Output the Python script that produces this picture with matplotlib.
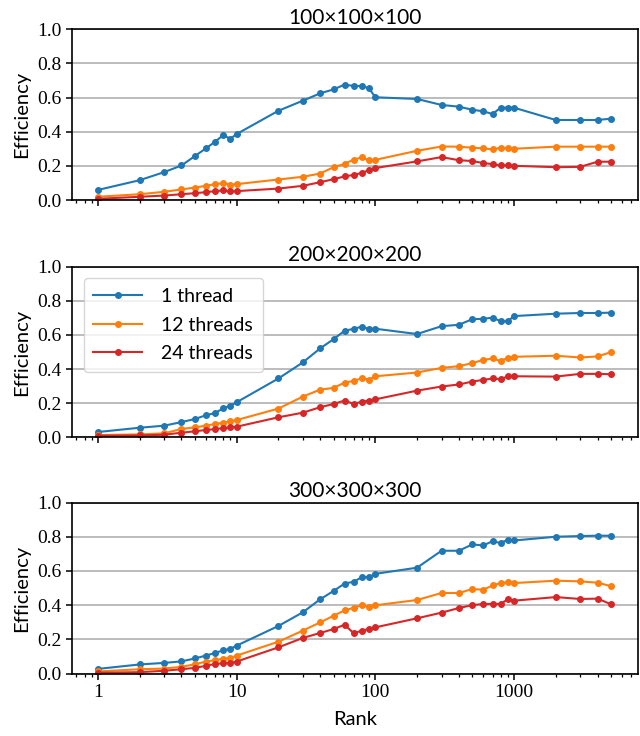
import matplotlib
matplotlib.use("Agg")
import matplotlib.pyplot as plt
from matplotlib.ticker import LogLocator, FixedLocator, FuncFormatter

# ranks (x axis)
ranks = [1, 2, 3, 4, 5, 6, 7, 8, 9, 10,
         20, 30, 40, 50, 60, 70, 80, 90, 100,
         200, 300, 400, 500, 600, 700, 800, 900, 1000,
         2000, 3000, 4000, 5000]

titles = ["100×100×100", "200×200×200", "300×300×300"]
labels = ["1 thread", "12 threads", "24 threads"]

# 100x100x100
eff100_t1 = [0.06, 0.117, 0.164, 0.203, 0.258, 0.303, 0.342, 0.381, 0.359, 0.387,
             0.523, 0.582, 0.625, 0.648, 0.676, 0.668, 0.668, 0.654, 0.602,
             0.592, 0.557, 0.547, 0.529, 0.52, 0.504, 0.541, 0.541, 0.541,
             0.469, 0.469, 0.469, 0.477]
eff100_t12 = [0.02, 0.035, 0.049, 0.063, 0.074, 0.084, 0.094, 0.1, 0.09, 0.094,
              0.121, 0.137, 0.156, 0.193, 0.212, 0.238, 0.25, 0.234, 0.236,
              0.289, 0.314, 0.313, 0.307, 0.303, 0.297, 0.307, 0.303, 0.301,
              0.313, 0.313, 0.313, 0.313]
eff100_t24 = [0.008, 0.02, 0.027, 0.035, 0.041, 0.047, 0.053, 0.057, 0.051, 0.053,
              0.068, 0.084, 0.105, 0.123, 0.139, 0.148, 0.16, 0.176, 0.188,
              0.227, 0.252, 0.234, 0.229, 0.217, 0.211, 0.203, 0.203, 0.201,
              0.193, 0.195, 0.225, 0.225]

# 200x200x200
eff200_t1 = [0.032, 0.057, 0.069, 0.09, 0.108, 0.13, 0.143, 0.171, 0.186, 0.206,
             0.345, 0.439, 0.521, 0.575, 0.624, 0.636, 0.648, 0.634, 0.636,
             0.605, 0.651, 0.659, 0.692, 0.694, 0.701, 0.68, 0.68, 0.71,
             0.724, 0.728, 0.728, 0.73]
eff200_t12 = [0.014, 0.018, 0.024, 0.05, 0.059, 0.069, 0.079, 0.087, 0.094, 0.102,
              0.169, 0.239, 0.28, 0.29, 0.321, 0.331, 0.347, 0.339, 0.358,
              0.38, 0.407, 0.417, 0.435, 0.454, 0.462, 0.447, 0.466, 0.472,
              0.478, 0.468, 0.474, 0.499]
eff200_t24 = [0.01, 0.012, 0.016, 0.028, 0.036, 0.044, 0.049, 0.055, 0.059, 0.063,
              0.118, 0.145, 0.177, 0.196, 0.216, 0.196, 0.21, 0.216, 0.223,
              0.274, 0.298, 0.31, 0.327, 0.337, 0.345, 0.341, 0.357, 0.358,
              0.356, 0.372, 0.372, 0.37]

# 300x300x300
eff300_t1 = [0.027, 0.053, 0.062, 0.071, 0.088, 0.105, 0.12, 0.136, 0.144, 0.163,
             0.278, 0.358, 0.434, 0.483, 0.526, 0.537, 0.564, 0.564, 0.583,
             0.619, 0.718, 0.718, 0.755, 0.749, 0.774, 0.763, 0.782, 0.778,
             0.8, 0.804, 0.806, 0.806]
eff300_t12 = [0.012, 0.025, 0.029, 0.039, 0.054, 0.07, 0.078, 0.087, 0.091, 0.105,
              0.186, 0.251, 0.299, 0.338, 0.369, 0.385, 0.4, 0.389, 0.399,
              0.43, 0.471, 0.471, 0.494, 0.49, 0.515, 0.529, 0.533, 0.529,
              0.543, 0.539, 0.531, 0.511]
eff300_t24 = [0.004, 0.008, 0.016, 0.025, 0.033, 0.045, 0.056, 0.06, 0.062, 0.07,
              0.153, 0.208, 0.237, 0.26, 0.285, 0.235, 0.251, 0.26, 0.27,
              0.323, 0.356, 0.383, 0.4, 0.407, 0.407, 0.407, 0.434, 0.426,
              0.447, 0.436, 0.438, 0.405]

panels = [
    [eff100_t1, eff100_t12, eff100_t24],
    [eff200_t1, eff200_t12, eff200_t24],
    [eff300_t1, eff300_t12, eff300_t24],
]
colors = ["tab:blue", "tab:orange", "tab:red"]

# tick numbers are serif, everything else sans
plt.rcParams['font.family'] = ['Liberation Serif', 'DejaVu Serif']
SANS = ["Lato", "DejaVu Sans"]

fig = plt.figure(figsize=(6.4, 7.36), dpi=100)
# axes rectangles (left, bottom, width, height) in figure fraction
rects = [
    [0.1125, 0.728, 0.884, 0.2323],
    [0.1125, 0.4056, 0.884, 0.2323],
    [0.1125, 0.0849, 0.884, 0.2323],
]

for k in range(3):
    ax = fig.add_axes(rects[k])
    for series, c, lab in zip(panels[k], colors, labels):
        ax.plot(ranks, series, color=c, marker="o", markersize=4,
                linewidth=1.5, label=lab)
    ax.set_xscale("log")
    ax.set_xlim(0.65, 7800)
    ax.set_ylim(0, 1.0)
    ax.yaxis.set_major_locator(FixedLocator([0.0, 0.2, 0.4, 0.6, 0.8, 1.0]))
    ax.yaxis.set_major_formatter(FuncFormatter(lambda v, p: "%.1f" % v))
    ax.xaxis.set_major_locator(LogLocator(base=10, numticks=10))
    ax.xaxis.set_minor_locator(LogLocator(base=10, subs=range(2, 10), numticks=20))
    ax.grid(axis="y", color="#b0b0b0", linewidth=1.2)
    ax.set_axisbelow(True)
    for s in ax.spines.values():
        s.set_linewidth(1.2)
    ax.tick_params(axis="both", which="major", width=1.1, length=4,
                   labelsize=14)
    ax.tick_params(axis="x", which="minor", width=0.9, length=2.5)
    if k < 2:
        ax.set_xticklabels([])
    else:
        ax.xaxis.set_major_formatter(
            FuncFormatter(lambda v, p: "%d" % round(v)))
        ax.set_xlabel("Rank", family=SANS, fontsize=14.5, labelpad=7)
    ax.set_ylabel("Efficiency", family=SANS, fontsize=14.5, labelpad=5)
    ax.set_title(titles[k], family=SANS, fontsize=15, pad=4)
    if k == 1:
        ax.legend(loc="upper left", prop={"family": SANS, "size": 14},
                  handlelength=2.5, handletextpad=1.0, borderaxespad=0.6,
                  labelspacing=0.6, borderpad=0.5)

fig.savefig("out.png", dpi=100)
